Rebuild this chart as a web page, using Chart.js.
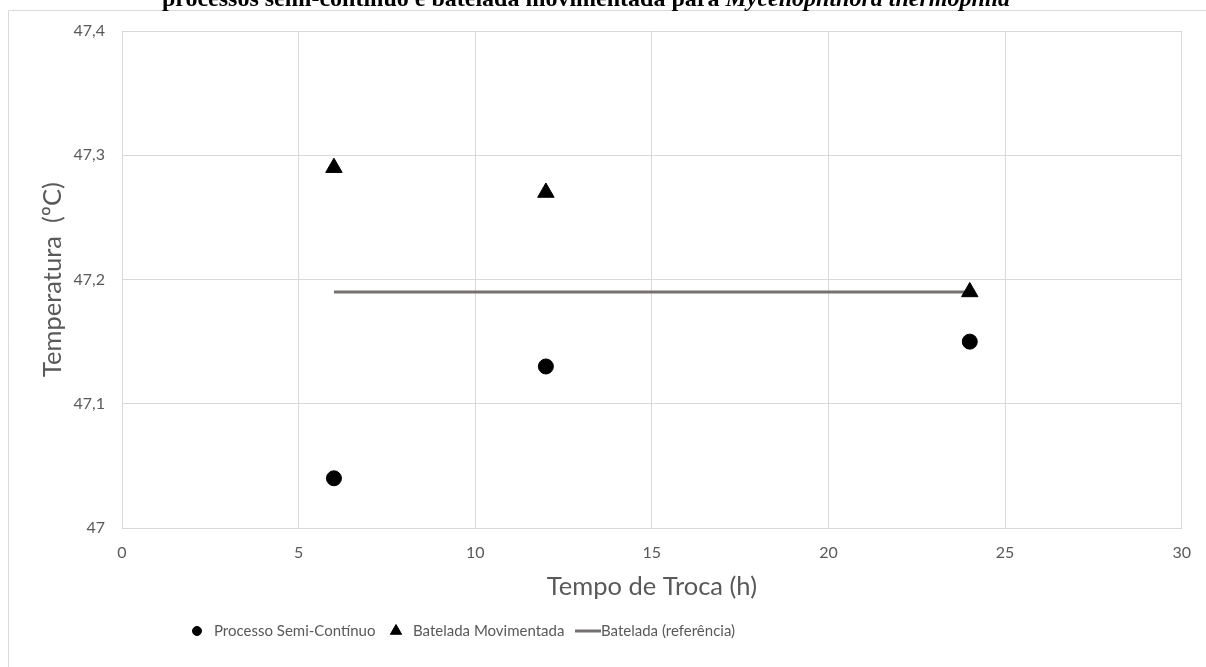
<!DOCTYPE html>
<html>
<head>
<meta charset="utf-8">
<script src="https://cdn.jsdelivr.net/npm/chart.js@4/dist/chart.umd.min.js"></script>
<style>
  html, body { margin: 0; padding: 0; background: #fff; overflow: hidden; }
  #wrap { position: relative; width: 1206px; height: 667px; }
</style>
</head>
<body>
<div id="wrap"><canvas id="c" width="1206" height="667"></canvas></div>
<script>
// Tempo de troca (h) de cada ensaio
const tempos = [6, 12, 24];
// Temperatura (ºC) medida em cada processo
const semiContinuo = [47.04, 47.13, 47.15];
const bateladaMovimentada = [47.29, 47.27, 47.19];
// Linha de referência da batelada
const referenciaTempos = [6, 24];
const referenciaTemp = [47.19, 47.19];
// Escalas
const eixoX = { min: 0, max: 30, passo: 5 };
const eixoY = { min: 47, max: 47.4, passo: 0.1 };
const legendas = ['Processo Semi-Contínuo', 'Batelada Movimentada', 'Batelada (referência)'];
const tituloNormal = 'processos semi-contínuo e batelada movimentada para ';
const tituloItalico = 'Myceliophthora thermophila';

const cinzaTexto = '#595959';
const cinzaGrade = '#d9d9d9';
const fonte = 'Lato, "Open Sans", sans-serif';
const serifa = '"Liberation Serif", "DejaVu Serif", serif';

const pares = (xs, ys) => xs.map((x, i) => ({ x: x, y: ys[i] }));
const fmt = v => String(Number(v.toFixed(1))).replace('.', ',');

// Moldura, título e legenda desenhados à parte
const extras = {
  id: 'extras',
  beforeDraw(chart) {
    const ctx = chart.ctx;
    ctx.save();
    ctx.fillStyle = '#fff';
    ctx.fillRect(0, 0, chart.width, chart.height);
    ctx.strokeStyle = cinzaGrade;
    ctx.lineWidth = 1;
    ctx.beginPath();
    ctx.moveTo(8.5, chart.height);
    ctx.lineTo(8.5, 10.5);
    ctx.lineTo(chart.width, 10.5);
    ctx.stroke();
    // título (cortado no topo)
    ctx.fillStyle = '#000';
    ctx.textBaseline = 'alphabetic';
    ctx.textAlign = 'left';
    ctx.font = 'bold 24px ' + serifa;
    const w1 = ctx.measureText(tituloNormal).width;
    ctx.font = 'italic bold 24px ' + serifa;
    const w2 = ctx.measureText(tituloItalico).width;
    const x0 = 586 - (w1 + w2) / 2;
    ctx.font = 'bold 24px ' + serifa;
    ctx.fillText(tituloNormal, x0, 6);
    ctx.font = 'italic bold 24px ' + serifa;
    ctx.fillText(tituloItalico, x0 + w1, 6);
    ctx.restore();
  },
  afterDraw(chart) {
    const ctx = chart.ctx;
    const yLeg = 631;
    // posição de cada símbolo da legenda
    const simbolos = [197, 396, 575];
    ctx.save();
    ctx.font = '15px ' + fonte;
    ctx.textBaseline = 'middle';
    ctx.textAlign = 'left';
    chart.data.datasets.forEach((ds, i) => {
      const sx = simbolos[i];
      let tx;
      if (ds.showLine) {
        ctx.strokeStyle = ds.borderColor;
        ctx.lineWidth = ds.borderWidth;
        ctx.beginPath();
        ctx.moveTo(sx, yLeg);
        ctx.lineTo(sx + 26, yLeg);
        ctx.stroke();
        tx = sx + 26;
      } else {
        ctx.fillStyle = ds.backgroundColor;
        ctx.strokeStyle = ds.borderColor;
        Chart.helpers.drawPoint(ctx, {
          pointStyle: ds.pointStyle,
          radius: ds.pointStyle === 'triangle' ? 6.5 : 4.5,
          rotation: 0,
          borderWidth: 0.5
        }, sx, yLeg);
        tx = sx + 17;
      }
      ctx.fillStyle = cinzaTexto;
      ctx.fillText(ds.label, tx, yLeg);
    });
    ctx.restore();
  }
};

new Chart(document.getElementById('c'), {
  type: 'scatter',
  data: {
    datasets: [
      {
        label: legendas[0],
        data: pares(tempos, semiContinuo),
        pointStyle: 'circle',
        pointRadius: 7.5,
        pointHoverRadius: 7.5,
        backgroundColor: '#000',
        borderColor: '#000',
        borderWidth: 1
      },
      {
        label: legendas[1],
        data: pares(tempos, bateladaMovimentada),
        pointStyle: 'triangle',
        pointRadius: 9.5,
        pointHoverRadius: 9.5,
        backgroundColor: '#000',
        borderColor: '#000',
        borderWidth: 1
      },
      {
        label: legendas[2],
        data: pares(referenciaTempos, referenciaTemp),
        showLine: true,
        pointRadius: 0,
        pointHoverRadius: 0,
        borderColor: '#767171',
        backgroundColor: '#767171',
        borderWidth: 3,
        order: 5
      }
    ]
  },
  options: {
    responsive: false,
    animation: false,
    devicePixelRatio: 1,
    layout: { padding: { left: 0, top: 31, right: 20, bottom: 64 } },
    plugins: {
      legend: { display: false },
      tooltip: { enabled: false },
      title: { display: false }
    },
    scales: {
      x: {
        type: 'linear',
        min: eixoX.min,
        max: eixoX.max,
        afterFit: s => { s.height = 75; },
        ticks: {
          stepSize: eixoX.passo,
          color: cinzaTexto,
          font: { family: fonte, size: 16 },
          padding: 15,
          maxRotation: 0
        },
        grid: { color: cinzaGrade, drawTicks: false, lineWidth: 1 },
        border: { color: cinzaGrade },
        title: {
          display: true,
          text: 'Tempo de Troca (h)',
          color: cinzaTexto,
          font: { family: fonte, size: 25.5 },
          padding: { top: 0, bottom: 1 }
        }
      },
      y: {
        type: 'linear',
        min: eixoY.min,
        max: eixoY.max,
        afterFit: s => { s.width = 122; },
        ticks: {
          stepSize: eixoY.passo,
          color: cinzaTexto,
          font: { family: fonte, size: 16 },
          padding: 17,
          callback: v => fmt(v)
        },
        grid: { color: cinzaGrade, drawTicks: false, lineWidth: 1 },
        border: { color: cinzaGrade },
        title: {
          display: true,
          text: 'Temperatura  (ºC)',
          color: cinzaTexto,
          font: { family: fonte, size: 25.5 },
          padding: { top: 37, bottom: 0 }
        }
      }
    }
  },
  plugins: [extras]
});
</script>
</body>
</html>
